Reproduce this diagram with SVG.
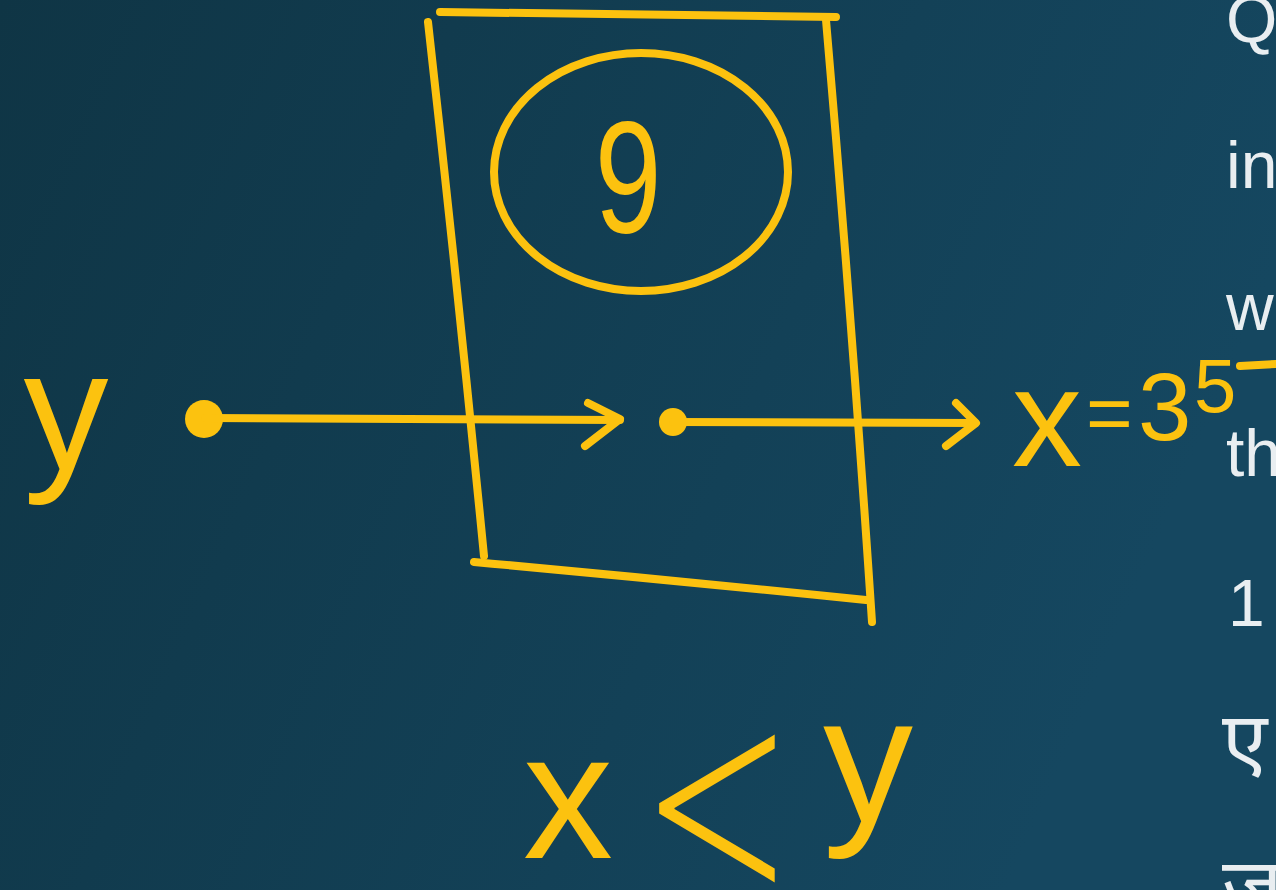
<svg xmlns="http://www.w3.org/2000/svg" width="1276" height="890" viewBox="0 0 1276 890">
<defs>
<linearGradient id="bg" x1="0" y1="0" x2="1" y2="0.3">
<stop offset="0" stop-color="#0f3545"/>
<stop offset="1" stop-color="#154760"/>
</linearGradient>
<style>
.ink{fill:none;stroke:#fcc20f;stroke-width:8;stroke-linecap:round;stroke-linejoin:round}
.hw{fill:#fcc20f;font-family:"Liberation Sans",Arial,sans-serif}
.side{fill:#e9eef1;font-family:"Liberation Sans",Arial,sans-serif;font-size:66px}
.deva{font-family:"Noto Sans","Noto Sans Devanagari",sans-serif;font-size:82px}
</style>
</defs>
<rect width="1276" height="890" fill="url(#bg)"/>
<g id="side-text">
<text class="side" x="1226" y="42">Q</text>
<text class="side" x="1226" y="188">in</text>
<text class="side" x="1226" y="330">w</text>
<text class="side" x="1226" y="476">th</text>
<text class="side" x="1228" y="626">1</text>
<text class="side deva" x="1222" y="770">ए</text>
<text class="side deva" x="1222" y="916">ज</text>
</g>
<g id="box">
<path class="ink" d="M440,12 Q640,14 836,17"/>
<path class="ink" d="M428,22 Q458,290 484,556"/>
<path class="ink" d="M826,20 Q852,320 872,622"/>
<path class="ink" d="M474,562 Q670,580 866,600"/>
</g>
<g id="circle-node">
<ellipse class="ink" cx="641" cy="172" rx="147" ry="119" stroke-width="9"/>
<text class="hw" transform="translate(628,232) scale(0.75,1)" font-size="160" text-anchor="middle">9</text>
</g>
<g id="input-y">
<text class="hw" x="66" y="470" font-size="170" text-anchor="middle">y</text>
<circle cx="204" cy="419" r="19" fill="#fcc20f"/>
</g>
<g id="inner-point">
<circle cx="673" cy="422" r="14" fill="#fcc20f"/>
</g>
<g id="output-x">
<text class="hw" y="466"><tspan x="1012" font-size="140">x</tspan><tspan x="1086" y="440" font-size="80">=</tspan><tspan x="1138" y="440" font-size="96">3</tspan><tspan x="1194" y="412" font-size="76">5</tspan></text>
<path class="ink" d="M1240,366 L1276,364"/>
</g>
<g id="connectors">
<path class="ink" d="M205,418 L620,420"/>
<path class="ink" d="M588,403 L620,419 L585,446"/>
<path class="ink" d="M673,422 L975,423"/>
<path class="ink" d="M956,403 L976,423 L946,446"/>
</g>
<g id="relation">
<text class="hw" x="568" y="858" font-size="180" text-anchor="middle">x</text>
<text class="hw" x="722" y="888" font-size="280" text-anchor="middle" style="font-family:Inter,'DejaVu Sans',sans-serif;font-weight:200">&lt;</text>
<text class="hw" x="868" y="822" font-size="180" text-anchor="middle">y</text>
</g>
</svg>
